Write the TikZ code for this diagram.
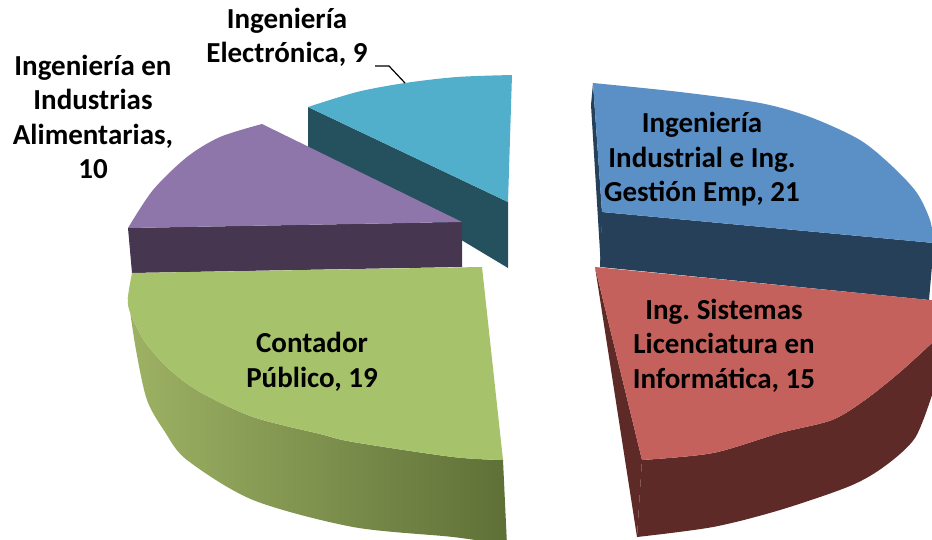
\documentclass[tikz,border=0pt]{standalone}
\usepackage{fontspec}
\setmainfont{Carlito}
\frenchspacing
\definecolor{bluetop}{RGB}{91,144,199}
\definecolor{blueside}{RGB}{38,64,90}
\definecolor{redtop}{RGB}{196,97,92}
\definecolor{redside}{RGB}{94,42,40}
\definecolor{greentop}{RGB}{166,194,106}
\definecolor{greenL}{RGB}{158,178,100}
\definecolor{greenR}{RGB}{95,112,55}
\definecolor{purptop}{RGB}{142,117,170}
\definecolor{purpside}{RGB}{70,54,80}
\definecolor{cyantop}{RGB}{82,175,203}
\definecolor{cyanside}{RGB}{37,80,94}
\begin{document}
\begin{tikzpicture}[x=1pt,y=-1pt,
  lbl/.style={font=\fontsize{29}{34.5}\selectfont\bfseries\frenchspacing, align=center, inner sep=0pt, anchor=base},
  leader/.style={draw=black, line width=1.2pt}]
\useasboundingbox (0,0) rectangle (932,540);
\clip (0,0) rectangle (932,540);
% Ingenieria Electronica (cyan)
\fill[cyanside] (308,107) -- (508,202) -- (508,268) -- (308,148) -- cycle;
\fill[cyantop] (508,202) -- plot[smooth] coordinates {(308,107) (357,92) (405,83) (457,77) (512,75)} -- cycle;
% Ingenieria Industrial (blue)
\fill[blueside] (593,83) -- (602,212) -- (601,268) -- (591,105) -- cycle;
\fill[blueside] (602,212) -- (934,243) -- (929,300) -- (600,267) -- cycle;
\fill[bluetop] (602,212) -- plot[smooth] coordinates {(593,83) (680,92) (760,103) (810,117) (860,140) (893,167) (917,193) (930,220) (934,243)} -- cycle;
% Industrias Alimentarias (purple)
\fill[purpside] (128,228) -- (462,222) -- (462,267) -- (132,273) -- cycle;
\fill[purptop] (462,222) -- plot[smooth] coordinates {(262,124) (220,137) (187,157) (153,190) (128,228)} -- cycle;
% Contador Publico (green)
\shade[left color=greenL, right color=greenR] plot[smooth] coordinates {(128,297) (130,312) (145,342) (170,370) (200,392) (253,417) (320,434) (353,442) (453,457) (503,460)} -- (507,545) -- plot[smooth] coordinates {(507,545) (453,537) (353,527) (253,500) (187,460) (165,432) (147,400) (136,350) (128,297)} -- cycle;
\fill[greentop] (482,267) -- plot[smooth] coordinates {(132,273) (128,297) (130,312) (145,342) (170,370) (200,392) (253,417) (320,434) (353,442) (453,457) (503,460)} -- cycle;
% Ing. Sistemas (red)
\fill[redside] (595,267) -- (642,460) -- (637,537) -- cycle;
\fill[redside] plot[smooth] coordinates {(642,460) (713,453) (780,433) (832,420) (865,400) (899,373) (932,343)} -- (940,335) -- (940,390) -- plot[smooth] coordinates {(932,395) (915,438) (885,466) (850,486) (780,510) (713,527) (637,537)} -- cycle;
\fill[redtop] (595,267) -- (940,301) -- (940,335) -- plot[smooth] coordinates {(932,343) (899,373) (865,400) (832,420) (780,433) (713,453) (642,460)} -- cycle;
% labels (anchor base = baseline of last line)
\node[lbl] (lblE) at (287,63) {Ingeniería\\Electrónica, 9};
\node[lbl] (lblA) at (93,179) {Ingeniería en\\Industrias\\Alimentarias,\\10};
\node[lbl] (lblB) at (702,202) {Ingeniería\\Industrial e Ing.\\Gestión Emp, 21};
\node[lbl] (lblR) at (724,388) {Ing. Sistemas\\Licenciatura en\\Informática, 15};
\node[lbl] (lblG) at (312,387) {Contador\\Público, 19};
\coordinate (l0) at (375,66);
\coordinate (l1) at (389,66);
\coordinate (l2) at (405,83);
\draw[leader] (l0) -- (l1) -- (l2);
\end{tikzpicture}
\end{document}
